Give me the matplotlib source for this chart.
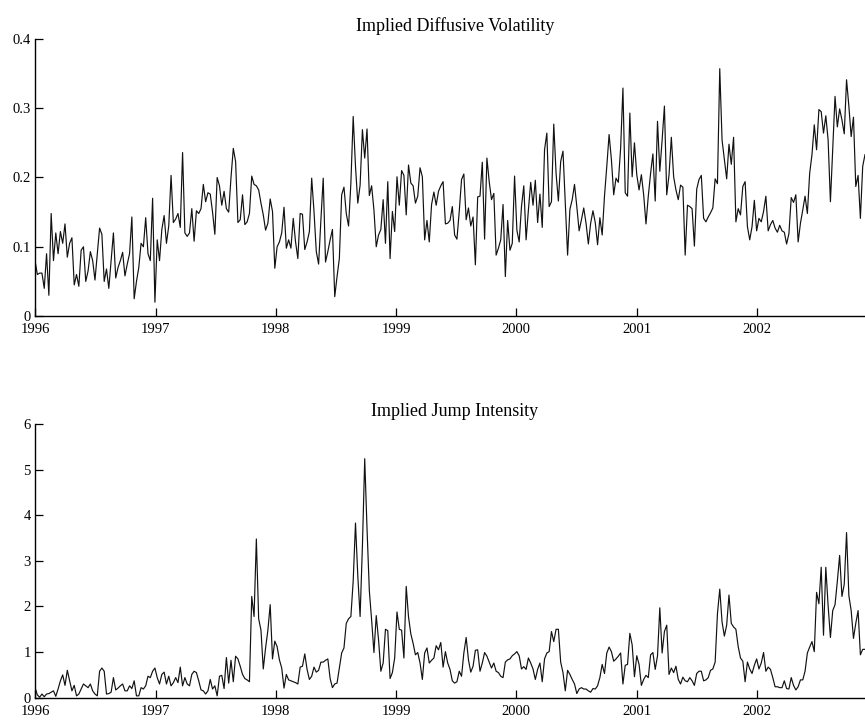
import matplotlib
matplotlib.use("Agg")
import matplotlib.pyplot as plt
import matplotlib.transforms as mtransforms
import numpy as np
import pandas as pd

plt.rcParams['font.family'] = ['Liberation Serif', 'DejaVu Serif']

# ---------------- data (weekly observations) ----------------
vol_1996 = [0.08, 0.06, 0.062, 0.062, 0.04, 0.09, 0.03, 0.148, 0.08, 0.12,
            0.09, 0.122, 0.105, 0.133, 0.085, 0.105, 0.113, 0.045, 0.06, 0.043,
            0.095, 0.1, 0.05, 0.065, 0.093, 0.08, 0.052, 0.09, 0.127, 0.118,
            0.05, 0.068, 0.04, 0.08, 0.12, 0.055, 0.07, 0.08, 0.092, 0.058,
            0.075, 0.09, 0.143, 0.025, 0.05, 0.07, 0.105, 0.1, 0.142, 0.09,
            0.08, 0.17]
vol_1997 = [0.02, 0.11, 0.08, 0.125, 0.145, 0.105, 0.13, 0.203, 0.135, 0.14,
            0.148, 0.128, 0.236, 0.12, 0.115, 0.12, 0.155, 0.108, 0.152, 0.148,
            0.155, 0.19, 0.165, 0.178, 0.176, 0.15, 0.118, 0.2, 0.188, 0.16,
            0.18, 0.155, 0.15, 0.2,
            0.242, 0.223, 0.135, 0.139, 0.175, 0.132, 0.136, 0.148, 0.202, 0.19,
            0.188, 0.182, 0.163, 0.146, 0.124, 0.134, 0.169, 0.151]
vol_1998 = [0.069, 0.1, 0.107, 0.12, 0.157, 0.098, 0.11, 0.098, 0.141, 0.107,
            0.083, 0.148, 0.147, 0.096, 0.107, 0.122, 0.199, 0.151, 0.093, 0.075,
            0.139, 0.199, 0.078, 0.093, 0.11, 0.125, 0.028, 0.057, 0.083, 0.175,
            0.186, 0.148, 0.13, 0.192, 0.288, 0.216, 0.163, 0.189, 0.269, 0.228,
            0.27, 0.174, 0.188, 0.153, 0.1, 0.117, 0.125, 0.168, 0.105, 0.194,
            0.083, 0.151]
vol_1999 = [0.122, 0.201, 0.16, 0.21, 0.203, 0.146, 0.218, 0.192, 0.188, 0.163,
            0.173, 0.214, 0.201, 0.11, 0.138, 0.107, 0.161, 0.179, 0.16, 0.18,
            0.188, 0.194, 0.133, 0.134, 0.138, 0.158, 0.117, 0.111, 0.151, 0.197,
            0.205, 0.139, 0.156, 0.13, 0.143, 0.074, 0.172, 0.173, 0.222, 0.111,
            0.228, 0.194, 0.168, 0.177, 0.088, 0.098, 0.11, 0.161, 0.057, 0.138,
            0.095, 0.105]
vol_2000 = [0.202, 0.124, 0.107, 0.158, 0.188, 0.11, 0.153, 0.193, 0.16, 0.196,
            0.135, 0.176, 0.128, 0.24, 0.264, 0.158, 0.165, 0.277, 0.206, 0.166,
            0.223, 0.238, 0.163, 0.088, 0.154, 0.168, 0.19, 0.158, 0.123, 0.139,
            0.156, 0.134, 0.104, 0.134, 0.152, 0.135, 0.103, 0.142, 0.117, 0.173,
            0.216, 0.262, 0.226, 0.175, 0.199, 0.193, 0.242, 0.329, 0.178, 0.173,
            0.293, 0.201]
vol_2001 = [0.25, 0.204, 0.182, 0.204, 0.175, 0.133, 0.173,
            0.206, 0.234, 0.166, 0.281, 0.209, 0.254, 0.303, 0.175, 0.204, 0.258,
            0.201, 0.182, 0.168, 0.189, 0.186, 0.088, 0.16, 0.158, 0.155, 0.101,
            0.183, 0.197, 0.203, 0.141, 0.136, 0.143, 0.149, 0.156, 0.198, 0.191,
            0.357, 0.254, 0.226, 0.198, 0.248, 0.219, 0.258, 0.136, 0.155, 0.146,
            0.187, 0.194, 0.129, 0.11, 0.129]
vol_2002 = [0.167, 0.123, 0.141, 0.136, 0.151, 0.173, 0.123, 0.132, 0.138, 0.127,
            0.121, 0.131, 0.123, 0.121, 0.104, 0.119, 0.171, 0.164, 0.175, 0.107,
            0.134, 0.153, 0.173, 0.148, 0.206, 0.233, 0.276, 0.24, 0.298, 0.295,
            0.264, 0.289, 0.254, 0.165, 0.24, 0.317, 0.273, 0.299, 0.283, 0.263,
            0.341, 0.303, 0.259, 0.287, 0.187, 0.203, 0.141, 0.216, 0.233]

jump_1996 = [0.22, 0.06, 0.01, 0.08, 0.02, 0.08, 0.09, 0.12, 0.15, 0.03,
             0.19, 0.37, 0.5, 0.27, 0.6, 0.37, 0.15, 0.27, 0.04, 0.08,
             0.19, 0.3, 0.26, 0.22, 0.3, 0.15, 0.08, 0.04, 0.58, 0.65,
             0.58, 0.08, 0.09, 0.12, 0.44, 0.17, 0.21, 0.26, 0.3, 0.15,
             0.15, 0.26, 0.2, 0.37, 0.04, 0.04, 0.22, 0.19, 0.26, 0.47,
             0.44, 0.58]
jump_1997 = [0.65, 0.44, 0.3, 0.51, 0.56, 0.3, 0.47, 0.26, 0.33, 0.44,
             0.33, 0.67, 0.26, 0.44, 0.3, 0.26, 0.51, 0.58, 0.55, 0.37,
             0.17, 0.15, 0.08, 0.15, 0.4, 0.19, 0.26, 0.04, 0.47, 0.49,
             0.2, 0.88,
             0.32, 0.82, 0.35, 0.91, 0.85, 0.69, 0.51, 0.42, 0.39, 0.35,
             2.22, 1.78, 3.48, 1.73, 1.48, 0.63, 1.09, 1.48, 2.04, 0.85]
jump_1998 = [1.24, 1.12, 0.83, 0.65, 0.21, 0.51, 0.39, 0.37, 0.35, 0.33,
             0.3, 0.67, 0.69, 0.96, 0.62, 0.4, 0.47, 0.67, 0.56, 0.6,
             0.78, 0.78, 0.82, 0.85, 0.42, 0.22, 0.3, 0.32, 0.65, 0.98,
             1.09, 1.63, 1.73, 1.78, 2.56, 3.83, 2.67, 1.78, 3.32, 5.24,
             3.71, 2.35, 1.7, 0.99, 1.8, 1.27, 0.58, 0.76, 1.5, 1.47,
             0.42, 0.55]
jump_1999 = [0.87, 1.88, 1.5, 1.48, 0.87, 2.44, 1.77, 1.4, 1.19, 0.94,
             0.99, 0.76, 0.4, 0.98, 1.09, 0.76, 0.82, 0.87, 1.14, 1.05,
             1.21, 0.67, 1.01, 0.76, 0.62, 0.37, 0.32, 0.35, 0.58, 0.47,
             0.98, 1.32, 0.83, 0.56, 0.69, 1.04, 1.05, 0.58, 0.76, 0.99,
             0.91, 0.78, 0.65, 0.76, 0.58, 0.55, 0.47, 0.44, 0.78, 0.83,
             0.85, 0.92]
jump_2000 = [0.96, 1.01, 0.92, 0.63, 0.68, 0.62, 0.87, 0.76, 0.63, 0.4,
             0.62, 0.76, 0.35, 0.85, 0.98, 1.01, 1.45, 1.23, 1.5, 1.5,
             0.78, 0.55, 0.15, 0.6, 0.51, 0.4, 0.3, 0.09, 0.19, 0.22,
             0.19, 0.19, 0.15, 0.12, 0.2, 0.19, 0.26, 0.44, 0.73, 0.53,
             0.98, 1.11, 1.01, 0.8, 0.85, 0.91, 0.98, 0.3, 0.71, 0.73,
             1.41, 1.16]
jump_2001 = [0.46, 0.92, 0.73, 0.27, 0.4, 0.49, 0.44,
             0.94, 0.99, 0.62, 0.92, 1.97, 0.98, 1.45, 1.59, 0.51, 0.65,
             0.55, 0.69, 0.4, 0.3, 0.45, 0.37, 0.35, 0.44, 0.37, 0.27,
             0.53, 0.58, 0.58, 0.37, 0.39, 0.44, 0.6, 0.63, 0.78, 1.84,
             2.38, 1.66, 1.35, 1.59, 2.25, 1.63, 1.55, 1.5, 1.12, 0.87,
             0.8, 0.35, 0.78, 0.63, 0.53]
jump_2002 = [0.71, 0.85, 0.63, 0.76, 0.99, 0.58, 0.67, 0.62, 0.44, 0.24,
             0.24, 0.22, 0.22, 0.37, 0.2, 0.19, 0.44, 0.27, 0.17, 0.24,
             0.39, 0.39, 0.58, 0.98, 1.11, 1.23, 1.01, 2.31, 2.06, 2.86,
             1.37, 2.86, 2.02, 1.32, 1.91, 2.04, 2.55, 3.12, 2.22, 2.49,
             3.62, 2.24, 1.91, 1.3, 1.63, 1.91, 0.94, 1.06, 1.06]

volatility = (vol_1996 + vol_1997 + vol_1998 + vol_1999 + vol_2000
              + vol_2001 + vol_2002)
jump = (jump_1996 + jump_1997 + jump_1998 + jump_1999 + jump_2000
        + jump_2001 + jump_2002)

years = [1996, 1997, 1998, 1999, 2000, 2001, 2002]
titles = ["Implied Diffusive Volatility", "Implied Jump Intensity"]
vol_ticks = [0, 0.1, 0.2, 0.3, 0.4]
vol_ticklabels = ["0", "0.1", "0.2", "0.3", "0.4"]
jump_ticks = [0, 1, 2, 3, 4, 5, 6]

n = len(volatility)
dates = pd.date_range("1996-01-01", periods=n, freq="7D")

fig = plt.figure(figsize=(8.65, 7.2), dpi=100)
ax1 = fig.add_axes([0.0405, 0.561, 0.9595, 0.385])
ax2 = fig.add_axes([0.0405, 0.031, 0.9595, 0.380])

def style(ax, series, ticks, ticklabels, ylim, title):
    ax.plot(dates[:len(series)], series, color="#111111", lw=0.85)
    ax.set_xlim(pd.Timestamp("1996-01-01"), dates[len(series) - 1])
    ax.set_ylim(*ylim)
    ax.set_yticks(ticks)
    labels = ax.set_yticklabels(ticklabels, va="center_baseline")
    # nudge the "0" label up so it clears the first year label
    labels[0].set_transform(labels[0].get_transform()
                            + mtransforms.ScaledTranslation(0, 4.5 / 72,
                                                            fig.dpi_scale_trans))
    ax.set_xticks([pd.Timestamp(f"{y}-01-01") for y in years])
    ax.set_xticklabels([str(y) for y in years])
    for s in ("top", "right"):
        ax.spines[s].set_visible(False)
    for s in ("left", "bottom"):
        ax.spines[s].set_linewidth(1.0)
    ax.tick_params(direction="in", length=6, width=0.9, labelsize=10.5,
                   colors="black")
    ax.tick_params(axis="x", pad=5)
    ax.tick_params(axis="y", pad=3)
    ax.set_title(title, fontsize=13, x=0.506, pad=6)

style(ax1, volatility, vol_ticks, vol_ticklabels, (0, 0.4), titles[0])
style(ax2, jump, jump_ticks, [str(t) for t in jump_ticks], (0, 6), titles[1])

fig.savefig("out.png", dpi=100)
